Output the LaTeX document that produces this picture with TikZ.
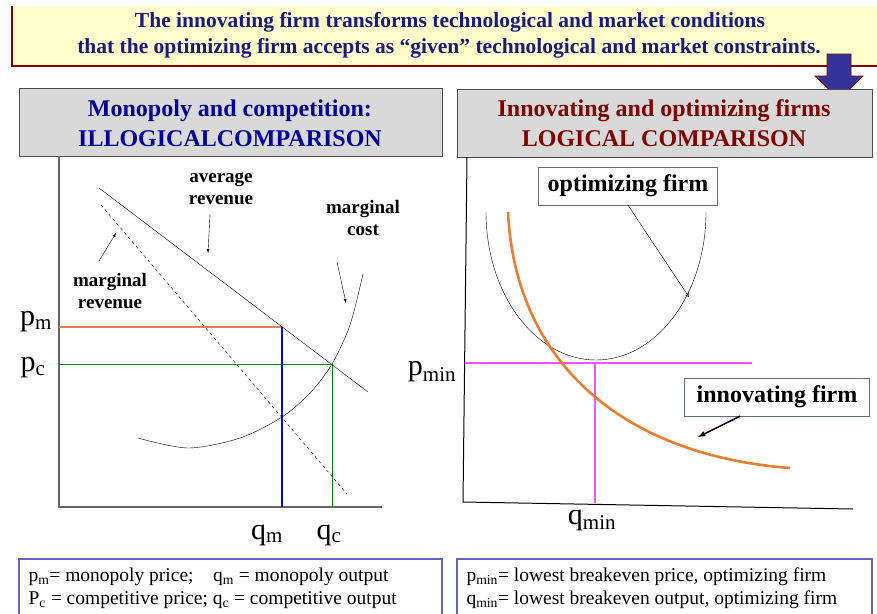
\documentclass[tikz,border=0pt]{standalone}
\usepackage{fontspec}
\setmainfont{Liberation Serif}
\usepackage{tikz}
\usetikzlibrary{arrows}

\definecolor{bannerfill}{RGB}{255,255,204}
\definecolor{bannerblue}{RGB}{26,26,128}
\definecolor{titlegray}{RGB}{217,217,217}
\definecolor{titleblue}{RGB}{0,0,153}
\definecolor{titlered}{RGB}{128,0,0}
\definecolor{pmbrown}{RGB}{220,130,85}
\definecolor{pcgreen}{RGB}{0,140,0}
\definecolor{innorange}{RGB}{237,125,49}
\definecolor{minpink}{RGB}{255,80,255}
\definecolor{legendblue}{RGB}{100,100,190}
\definecolor{arrowblue}{RGB}{51,51,153}
\definecolor{calloutgray}{RGB}{100,110,130}

\tikzset{
  bannertxt/.style={font=\fontsize{21.5}{24}\selectfont\bfseries, text=bannerblue},
  titlebox/.style={draw=black!70, fill=titlegray, line width=1pt},
  titletxt/.style={font=\fontsize{24}{30}\selectfont\bfseries, align=center},
  axisline/.style={draw=black!60, line width=1.2pt},
  curvelbl/.style={font=\fontsize{19}{22}\selectfont\bfseries, align=center},
  pricelbl/.style={font=\fontsize{30}{32}\selectfont},
  callout/.style={draw=calloutgray, fill=white, font=\fontsize{24}{26}\selectfont\bfseries,
    minimum height=38pt, inner xsep=9pt},
  legendtxt/.style={font=\fontsize{19.5}{23}\selectfont, align=left, anchor=west},
  legendbox/.style={draw=legendblue, line width=1.2pt},
  pointer/.style={-latex, black}
}

\begin{document}
\begin{tikzpicture}[x=1pt,y=-1pt]
  \useasboundingbox (0,0) rectangle (877,613);
  % banner
  \fill[bannerfill] (12,6) rectangle (880,66);
  \draw[titlered, line width=1.2pt] (12,6) -- (12,66) -- (880,66);
  \node[bannertxt] (line1) at (450,22) {The innovating firm transforms technological and market conditions};
  \node[bannertxt] (line2) at (449,48) {that the optimizing firm accepts as “given” technological and market constraints.};
  \filldraw[fill=arrowblue, draw=titlered, line width=0.8pt]
    (827,54) -- (851,54) -- (851,76) -- (863,76) -- (839,99) -- (815,76) -- (827,76) -- cycle;

  % title boxes
  \draw[titlebox] (19,88) rectangle (442,156);
  \node[titletxt, text=titleblue] (lefttitle) at (230,123) {Monopoly and competition:\\ILLOGICALCOMPARISON};
  \draw[titlebox] (457,89) rectangle (872,157);
  \node[titletxt, text=titlered] (righttitle) at (664,123) {Innovating and optimizing firms\\LOGICAL COMPARISON};

  % left graph
  \draw[axisline] (59,156) -- (59,507) -- (382,507);
  \draw[pmbrown, line width=1.2pt] (59,327) -- (282,327);
  \draw[pcgreen, line width=1pt] (59,364) -- (332,364);
  \draw[blue, line width=1.6pt] (282,327) -- (282,507);
  \draw[pcgreen, line width=1pt] (332,364) -- (332,507);
  \draw (99,188) -- (368,392);
  \draw[dashed] (101,205) -- (347,494);
  \draw plot[smooth] coordinates {(138,438) (188,448) (240,438) (282,417) (310,393) (332,364) (350,325) (363,274)};
  \node[curvelbl] (avgrev) at (221,189) {average\\revenue};
  \node[curvelbl] (mcost) at (363,218) {marginal\\cost};
  \node[curvelbl] (mrev) at (110,291) {marginal\\revenue};
  \coordinate (avgtail) at (210,214);
  \coordinate (avgtip) at (208,253);
  \coordinate (mctail) at (337,262);
  \coordinate (mctip) at (346,303);
  \coordinate (mrtip) at (116,233);
  \coordinate (mrtail) at (99,261);
  \draw[pointer] (avgtail) -- (avgtip);
  \draw[pointer] (mctail) -- (mctip);
  \draw[pointer] (mrtail) -- (mrtip);
  \node[pricelbl] (pm) at (36,322) {p\textsubscript{m}};
  \node[pricelbl] (pc) at (33,368) {p\textsubscript{c}};
  \node[pricelbl] (qm) at (267,535) {q\textsubscript{m}};
  \node[pricelbl] (qc) at (329,535) {q\textsubscript{c}};

  % right graph
  \draw[black, line width=1pt] (467,157) -- (463,502) -- (853,509);
  \draw[minpink, line width=1.2pt] (465,363) -- (752,363);
  \draw[minpink, line width=1.2pt] (595,363) -- (595,503);
  \draw (486,212) arc[start angle=180, end angle=0, x radius=110, y radius=148];
  \draw[innorange, line width=2.6pt] (508,212) .. controls (515,360) and (620,455) .. (790,468);
  \node[callout] (optfirm) at (628,186) {optimizing firm};
  \node[callout, inner xsep=12pt] (innfirm) at (777,397) {innovating firm};
  \coordinate (opttip) at (689,297);
  \coordinate (inntip) at (698,437);
  \draw[-angle 60, black] (optfirm.south) -- (opttip);
  \draw[pointer, line width=1.5pt] (innfirm.south) ++(-37,0) -- (inntip);
  \node[pricelbl] (pmin) at (432,372) {p\textsubscript{min}};
  \node[pricelbl] (qmin) at (592,520) {q\textsubscript{min}};

  % legends
  \draw[legendbox] (19,559) rectangle (442,625);
  \node[legendtxt] (legl1) at (25,577) {p\textsubscript{m}= monopoly price;\quad q\textsubscript{m} = monopoly output};
  \node[legendtxt] (legl2) at (25,600) {P\textsubscript{c} = competitive price; q\textsubscript{c} = competitive output};
  \draw[legendbox] (457,559) rectangle (872,625);
  \node[legendtxt] (legr1) at (463,577) {p\textsubscript{min}= lowest breakeven price, optimizing firm};
  \node[legendtxt] (legr2) at (463,600) {q\textsubscript{min}= lowest breakeven output, optimizing firm};
\end{tikzpicture}
\end{document}
